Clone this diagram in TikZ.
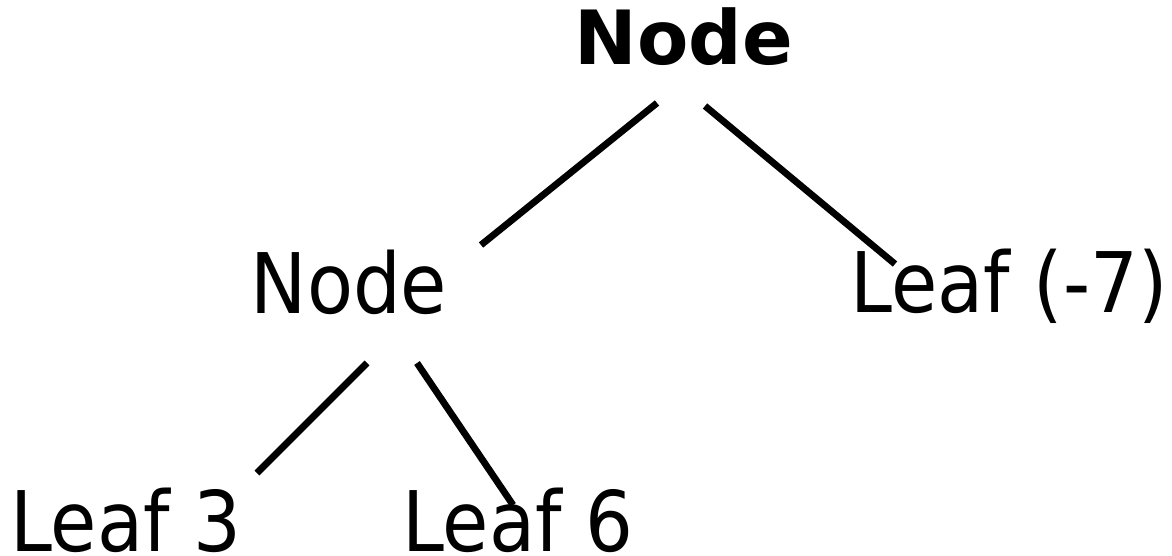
\documentclass[tikz,border=0pt]{standalone}
\usepackage{fontspec}
\setmainfont{DejaVu Sans}
\newfontfamily\condfont{DejaVu Sans Condensed}
\usepackage{tikz}
\usetikzlibrary{calc}

\begin{document}
\begin{tikzpicture}[x=0.5pt, y=-0.5pt,
	   t/.style={inner sep=0pt, anchor=base, font=\condfont\fontsize{41.8pt}{48pt}\selectfont},
	   tb/.style={inner sep=0pt, anchor=base, font=\bfseries\fontsize{37.4pt}{43pt}\selectfont},
	   ln/.style={line width=3.4pt}]
	  \useasboundingbox (0,0) rectangle (1172,556);
	  \node[tb] (root) at (684,65) {Node};
	  \node[t] (mid) at (349,313) {Node};
	  \node[t] (l7) at (1009,312) {Leaf (-7)};
	  \node[t] (l3) at (126,551) {Leaf 3};
	  \node[t] (l6) at (518,551) {Leaf 6};
	  \draw[ln] ($(root.base)+(-27,38)$) -- ($(mid.base)+(132,-68)$);
	  \draw[ln] ($(root.base)+(21,41)$) -- ($(l7.base)+(-114,-48)$);
	  \draw[ln] ($(mid.base)+(18,50)$) -- ($(l3.base)+(131,-78)$);
	  \draw[ln] ($(mid.base)+(68,50)$) -- ($(l6.base)+(-5,-46)$);
	\end{tikzpicture}
\end{document}
